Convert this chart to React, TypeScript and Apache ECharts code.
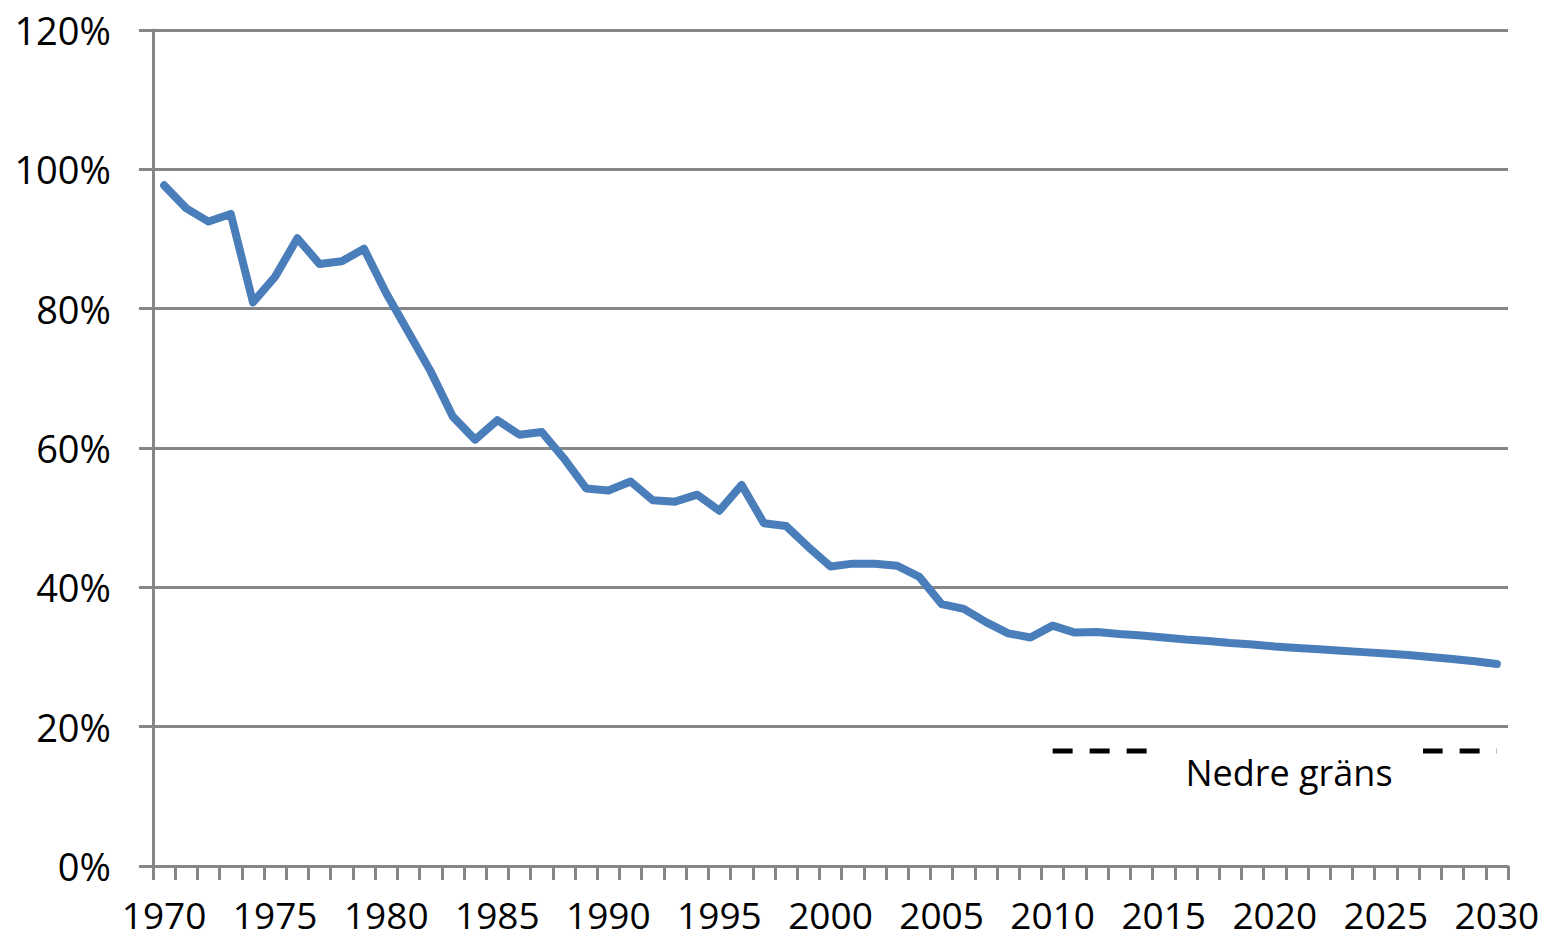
import React, { useEffect, useRef } from "react";
import * as echarts from "echarts";

const years: string[] = Array.from({ length: 61 }, (_, i) => String(1970 + i));

const shareValues: number[] = [
  97.7, 94.4, 92.5, 93.6, 80.9, 84.6, 90.1, 86.4, 86.8, 88.6,
  82.2, 76.6, 71.0, 64.5, 61.2, 64.0, 61.9, 62.3, 58.5, 54.2,
  53.9, 55.2, 52.5, 52.3, 53.3, 51.0, 54.7, 49.2, 48.8, 45.8,
  43.0, 43.4, 43.4, 43.1, 41.5, 37.6, 36.9, 35.0, 33.4, 32.8,
  34.5, 33.5, 33.6, 33.3, 33.1, 32.8, 32.5, 32.3, 32.0, 31.8,
  31.5, 31.3, 31.1, 30.9, 30.7, 30.5, 30.3, 30.0, 29.7, 29.4,
  29.0,
];

const lowerBoundStart = "2010";
const lowerBoundValue = 16.5;
const lowerBoundLabel = "Nedre gräns";

const yTicks = { min: 0, max: 120, interval: 20 };

export default function App() {
  const ref = useRef<HTMLDivElement>(null);

  useEffect(() => {
    if (!ref.current) return;
    const chart = echarts.init(ref.current, undefined, { renderer: "svg" });
    const startIdx = years.indexOf(lowerBoundStart);
    const lowerData = years.map((_, i) => (i >= startIdx ? lowerBoundValue : null));
    const font = "'Open Sans', sans-serif";
    const axisColor = "#868686";

    chart.setOption({
      animation: false,
      backgroundColor: "#ffffff",
      grid: { left: 153, right: 40, top: 30, bottom: 79, containLabel: false },
      xAxis: {
        type: "category",
        data: years,
        boundaryGap: true,
        axisLine: { lineStyle: { color: axisColor, width: 3 } },
        axisTick: { show: true, interval: 0, length: 14, lineStyle: { color: axisColor, width: 3 } },
        axisLabel: {
          interval: 4,
          color: "#000",
          fontFamily: font,
          fontSize: 37,
          lineHeight: 37,
          margin: 30,
        },
        splitLine: { show: false },
      },
      yAxis: {
        type: "value",
        min: yTicks.min,
        max: yTicks.max,
        interval: yTicks.interval,
        axisLine: { show: true, lineStyle: { color: axisColor, width: 3 } },
        axisTick: { show: true, length: 14, lineStyle: { color: axisColor, width: 3 } },
        axisLabel: {
          formatter: "{value}%",
          color: "#000",
          fontFamily: font,
          fontSize: 38,
          margin: 42,
        },
        splitLine: { show: true, lineStyle: { color: axisColor, width: 3 } },
      },
      series: [
        {
          name: "Andel",
          type: "line",
          data: shareValues,
          symbol: "none",
          lineStyle: { color: "#4a7ebb", width: 8, cap: "round", join: "round" },
          z: 3,
        },
        {
          name: lowerBoundLabel,
          type: "line",
          data: lowerData,
          symbol: "none",
          lineStyle: { color: "#000", width: 5, type: [20, 17] },
          z: 2,
        },
      ],
      graphic: [
        {
          type: "rect",
          shape: { x: 1149, y: 738, width: 274, height: 26 },
          style: { fill: "#ffffff" },
          z: 10,
        },
        {
          type: "text",
          x: 1289,
          y: 772,
          style: {
            text: lowerBoundLabel,
            fill: "#000",
            font: `36px ${font}`,
            align: "center",
            verticalAlign: "middle",
          },
          z: 11,
        },
      ],
    });
    return () => chart.dispose();
  }, []);

  return (
    <div
      ref={ref}
      style={{ position: "fixed", left: 0, top: 0, width: 1548, height: 945, background: "#fff" }}
    />
  );
}
